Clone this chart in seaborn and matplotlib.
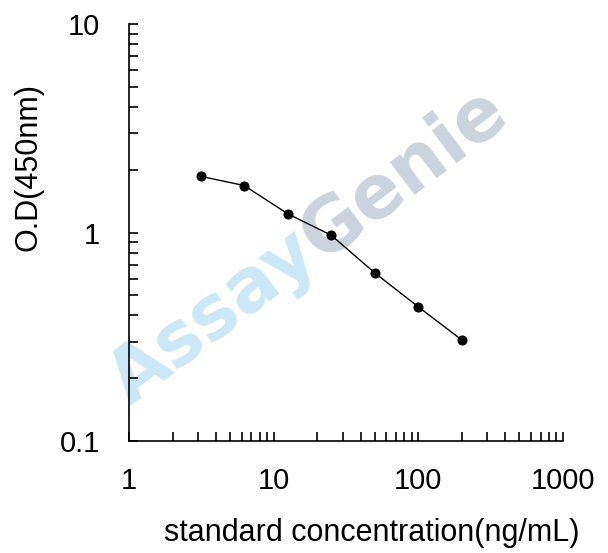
import numpy as np
import pandas as pd
import matplotlib
matplotlib.use('Agg')
import matplotlib.pyplot as plt
import seaborn as sns
from matplotlib.ticker import LogLocator, FixedLocator, FixedFormatter, NullFormatter

# 标准曲线数据
conc = [3.125, 6.25, 12.5, 25, 50, 100, 200]
od = [1.86, 1.68, 1.23, 0.97, 0.64, 0.44, 0.305]

x_ticks = [1, 10, 100, 1000]
x_tick_labels = ['1', '10', '100', '1000']
y_ticks = [0.1, 1, 10]
y_tick_labels = ['0.1', '1', '10']

df = pd.DataFrame({'conc': conc, 'od': od})

sns.set_style('white')
plt.rcParams['font.family'] = ['Liberation Sans', 'DejaVu Sans']
plt.rcParams['text.color'] = 'black'
plt.rcParams['axes.labelcolor'] = 'black'
plt.rcParams['xtick.color'] = 'black'
plt.rcParams['ytick.color'] = 'black'

fig = plt.figure(figsize=(6.08, 5.53), dpi=100)
ax = fig.add_axes([0.2122, 0.2025, 0.7138, 0.7541])

# 水印 (放在曲线下面)
wm_x, wm_y = 322 / 608, 1 - 262 / 553
ax.text(wm_x, wm_y, 'Assay', fontsize=53, fontweight='bold', family='DejaVu Sans',
        color='#cce7f5', rotation=37, rotation_mode='anchor', ha='right', va='baseline',
        transform=fig.transFigure, zorder=0, clip_on=False)
ax.text(wm_x, wm_y, 'Genie', fontsize=53, fontweight='bold', family='DejaVu Sans',
        color='#cdd3dc', rotation=37, rotation_mode='anchor', ha='left', va='baseline',
        transform=fig.transFigure, zorder=0, clip_on=False)

sns.lineplot(data=df, x='conc', y='od', ax=ax, color='black', linewidth=1.0,
             marker='o', markersize=6.5, markeredgecolor='black', markerfacecolor='black',
             zorder=3)

ax.set_xscale('log')
ax.set_yscale('log')
ax.set_xlim(1, 1000)
ax.set_ylim(0.1, 10)

ax.xaxis.set_major_locator(FixedLocator(x_ticks))
ax.xaxis.set_major_formatter(FixedFormatter(x_tick_labels))
ax.yaxis.set_major_locator(FixedLocator(y_ticks))
ax.yaxis.set_major_formatter(FixedFormatter(y_tick_labels))
ax.xaxis.set_minor_locator(LogLocator(base=10, subs=np.arange(2, 10)))
ax.yaxis.set_minor_locator(LogLocator(base=10, subs=np.arange(2, 10)))
ax.xaxis.set_minor_formatter(NullFormatter())
ax.yaxis.set_minor_formatter(NullFormatter())

for s in ['top', 'right']:
    ax.spines[s].set_visible(False)
for s in ['left', 'bottom']:
    ax.spines[s].set_linewidth(1.2)
    ax.spines[s].set_color('black')

ax.tick_params(axis='both', which='both', direction='in', length=6.2, width=1.2,
               color='black', bottom=True, left=True, top=False, right=False)
ax.tick_params(axis='x', which='major', labelsize=21, pad=19, labelcolor='black')
ax.tick_params(axis='y', which='major', labelsize=21, pad=21, labelcolor='black')

ax.set_xlabel('standard concentration(ng/mL)', fontsize=22, color='black')
ax.set_ylabel('O.D(450nm)', fontsize=22, color='black')
ax.xaxis.set_label_coords(0.56, -0.185)
ax.yaxis.set_label_coords(-0.196, 0.657)

fig.savefig('out.png', dpi=100)
